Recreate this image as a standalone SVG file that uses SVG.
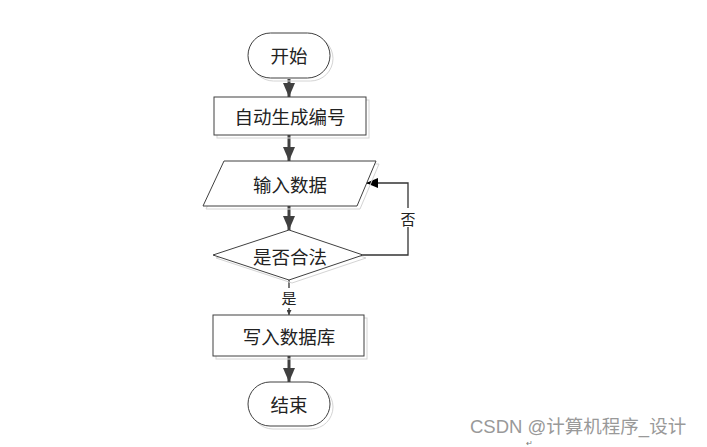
<svg xmlns="http://www.w3.org/2000/svg" width="707" height="447" viewBox="0 0 707 447">
<defs>
<marker id="big" viewBox="0 0 14 12" refX="14" refY="6" markerWidth="14" markerHeight="12" markerUnits="userSpaceOnUse" orient="auto">
<path d="M0,0 L14,6 L0,12 Z" fill="#404040"/>
</marker>
<marker id="mid" viewBox="0 0 12 10" refX="12" refY="5" markerWidth="12" markerHeight="10" markerUnits="userSpaceOnUse" orient="auto">
<path d="M0,0 L12,5 L0,10 Z" fill="#000"/>
</marker>
<marker id="small" viewBox="0 0 5 5" refX="5" refY="2.5" markerWidth="5" markerHeight="5" markerUnits="userSpaceOnUse" orient="auto">
<path d="M0,0 L5,2.5 L0,5 Z" fill="#404040"/>
</marker>
</defs>
<style>
.shape{fill:#fff;stroke:#404040;stroke-width:1}
.shadow{fill:none;stroke:#d4d4d4;stroke-width:1}
.t{font-family:"Noto Sans CJK SC","Liberation Sans",sans-serif;font-size:18.5px;fill:#222;text-anchor:middle;dominant-baseline:central}
.lbl{font-family:"Noto Sans CJK SC","Liberation Sans",sans-serif;font-size:15px;fill:#222;text-anchor:middle;dominant-baseline:central}
.thick{fill:none;stroke:#404040;stroke-width:3}
.thin{fill:none;stroke:#333;stroke-width:1.3}
</style>
<rect width="707" height="447" fill="#fff"/>
<g id="connectors">
<line class="thick" x1="289" y1="79" x2="289" y2="97" marker-end="url(#big)"/>
<line class="thick" x1="289" y1="135" x2="289" y2="161" marker-end="url(#big)"/>
<line class="thick" x1="289" y1="206" x2="289" y2="230" marker-end="url(#big)"/>
<polyline class="thin" points="363,255 408,255 408,183 366,183" marker-end="url(#mid)"/>
<rect x="400" y="208" width="16" height="19" fill="#fff"/>
<text class="lbl" x="408" y="218">否</text>
<line class="thin" x1="289" y1="280" x2="289" y2="288"/>
<text class="lbl" x="289" y="297">是</text>
<line class="thin" x1="289" y1="308" x2="289" y2="315" marker-end="url(#small)"/>
<line class="thick" x1="289" y1="356" x2="289" y2="382" marker-end="url(#big)"/>
</g>
<g id="start">
<rect class="shadow" x="251" y="36" width="82" height="45" rx="22.5"/>
<rect class="shape" x="248" y="33" width="82" height="45" rx="22.5"/>
<text class="t" x="289" y="55">开始</text>
</g>
<g id="gen">
<rect class="shadow" x="217" y="100" width="152" height="38"/>
<rect class="shape" x="214" y="97" width="152" height="38"/>
<text class="t" x="290" y="116">自动生成编号</text>
</g>
<g id="input">
<polygon class="shadow" points="227,164 379,164 360,209 206,209"/>
<polygon class="shape" points="224,161 376,161 357,206 203,206"/>
<text class="t" x="290" y="184">输入数据</text>
</g>
<g id="check">
<polygon class="shadow" points="292,233 366,258 292,283 216,258"/>
<polygon class="shape" points="289,230 363,255 289,280 213,255"/>
<text class="t" x="290" y="256">是否合法</text>
</g>
<g id="write">
<rect class="shadow" x="216" y="318" width="151" height="41"/>
<rect class="shape" x="213" y="315" width="151" height="41"/>
<text class="t" x="289" y="336">写入数据库</text>
</g>
<g id="end">
<rect class="shadow" x="251" y="385" width="82" height="44" rx="22"/>
<rect class="shape" x="248" y="382" width="82" height="44" rx="22"/>
<text class="t" x="289" y="404">结束</text>
</g>
<text x="470" y="433" font-family="'Liberation Sans','Noto Sans CJK SC',sans-serif" font-size="18.5" fill="#999">CSDN @计算机程序_设计</text>
<text x="526" y="446" font-family="'Liberation Sans','Noto Sans CJK SC',sans-serif" font-size="8" fill="#777">↵</text>
</svg>
